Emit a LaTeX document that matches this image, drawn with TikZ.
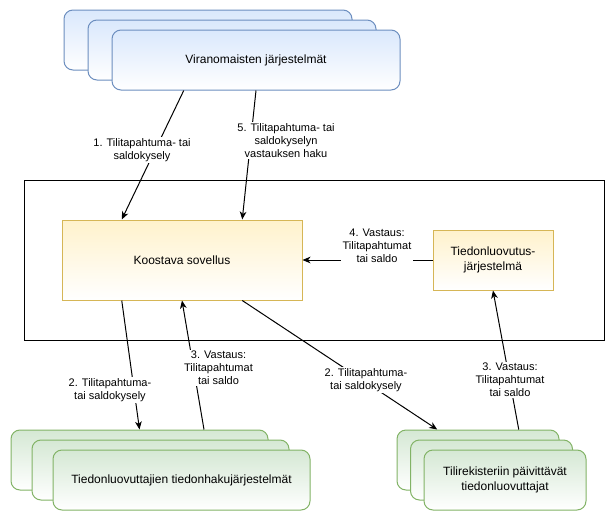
\documentclass[tikz,border=0pt]{standalone}
\usepackage{fontspec}
\setmainfont{Liberation Sans}
\usetikzlibrary{calc,arrows.meta}
\definecolor{bluefill}{HTML}{DAE8FC}
\definecolor{bluedraw}{HTML}{6C8EBF}
\definecolor{yellowfill}{HTML}{FFF2CC}
\definecolor{yellowdraw}{HTML}{D6B656}
\definecolor{greenfill}{HTML}{D5E8D4}
\definecolor{greendraw}{HTML}{82B366}
\tikzset{
  box/.style={line width=0.75pt, inner sep=2pt, align=center, font=\fontsize{9}{10.8}\selectfont},
  bluebox/.style={box, draw=bluedraw, top color=bluefill, bottom color=white, rounded corners=6.75pt, minimum width=216pt, minimum height=45pt},
  greenbox/.style={box, draw=greendraw, top color=greenfill, bottom color=white, rounded corners=6.75pt, minimum height=45pt},
  yellowbox/.style={box, draw=yellowdraw, top color=yellowfill, bottom color=white},
  lbl/.style={fill=white, inner sep=1pt, align=center, font=\fontsize{8.25}{9.9}\selectfont},
  arr/.style={draw, line width=0.75pt, -{Stealth[length=6pt,width=5pt,inset=1.8pt]}}
}
\begin{document}
\begin{tikzpicture}[x=0.75pt,y=-0.75pt]
\useasboundingbox (0,0) rectangle (614,521);
\node[draw, line width=0.75pt, minimum width=435pt, minimum height=120pt] (frame) at (314,260) {};

\node[bluebox] (vir1) at (208,40) {};
\node[bluebox] (vir2) at (232,50) {};
\node[bluebox] (vir3) at (256,60) {Viranomaisten järjestelmät};

\node[yellowbox, minimum width=180pt, minimum height=60pt] (koo) at (182,260) {Koostava sovellus};
\node[yellowbox, minimum width=90pt, minimum height=45pt] (tie) at (493,260) {Tiedonluovutus-\\järjestelmä};

\node[greenbox, minimum width=192.75pt] (hak1) at (139.5,460) {};
\node[greenbox, minimum width=192.75pt] (hak2) at (160.5,470) {};
\node[greenbox, minimum width=192.75pt] (hak3) at (181.5,480) {Tiedonluovuttajien tiedonhakujärjestelmät};

\node[greenbox, minimum width=121.5pt] (til1) at (478,460) {};
\node[greenbox, minimum width=121.5pt] (til2) at (491.5,470) {};
\node[greenbox, minimum width=121.5pt] (til3) at (505,480) {Tilirekisteriin päivittävät\\tiedonluovuttajat};

\draw[arr] ($(vir3.south west)!0.25!(vir3.south east)$) -- ($(koo.north west)!0.25!(koo.north east)$)
  node[lbl] at (142,150) {1. Tilitapahtuma- tai\\saldokysely};
\draw[arr] ($(vir3.south west)!0.5!(vir3.south east)$) -- ($(koo.north west)!0.75!(koo.north east)$)
  node[lbl] at (286,140.5) {5. Tilitapahtuma- tai\\saldokyselyn\\vastauksen haku};
\draw[arr] (tie.west) -- (koo.east)
  node[lbl] at (377,245.5) {4. Vastaus:\\Tilitapahtumat\\tai saldo};
\draw[arr] ($(koo.south west)!0.25!(koo.south east)$) -- ($(hak1.north west)!0.5!(hak1.north east)$)
  node[lbl] at (110,390) {2. Tilitapahtuma-\\tai saldokysely};
\draw[arr] ($(hak1.north west)!0.75!(hak1.north east)$) -- (koo.south)
  node[lbl] at (218.5,368) {3. Vastaus:\\Tilitapahtumat\\tai saldo};
\draw[arr] ($(koo.south west)!0.75!(koo.south east)$) -- ($(til1.north west)!0.25!(til1.north east)$)
  node[lbl] at (366,380) {2. Tilitapahtuma-\\tai saldokysely};
\draw[arr] ($(til1.north west)!0.75!(til1.north east)$) -- (tie.south)
  node[lbl] at (510,380) {3. Vastaus:\\Tilitapahtumat\\tai saldo};
\end{tikzpicture}
\end{document}
